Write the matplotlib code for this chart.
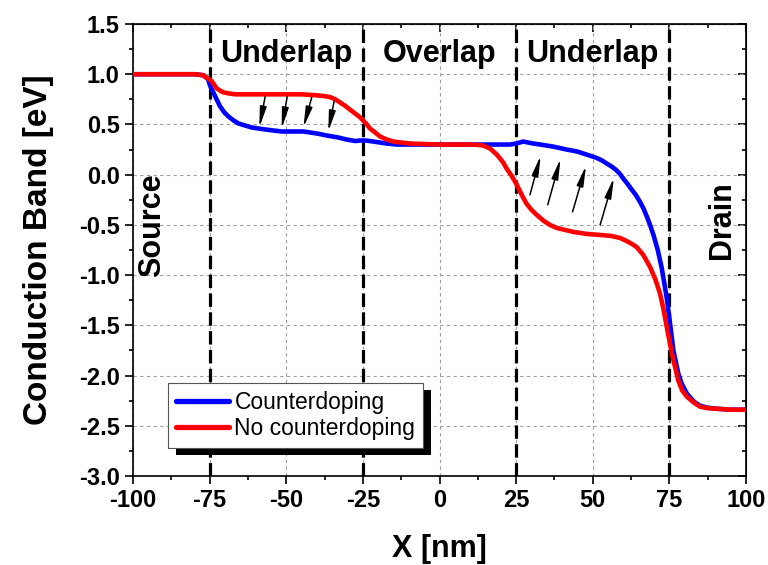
import matplotlib
matplotlib.use('Agg')
import matplotlib.pyplot as plt
from matplotlib.ticker import MultipleLocator
from matplotlib.patches import Rectangle

plt.rcParams['font.family'] = ['Liberation Sans', 'DejaVu Sans']
plt.rcParams['axes.unicode_minus'] = False

# conduction band edge, x in nm, energy in eV
x_cd = [-100, -90, -80, -77, -75.5, -74.9, -73.2, -71.6, -70.2, -68.9, -67.2, -65.6, -63.5,
        -61.3, -56.9, -51.5, -44.4, -40, -36.8, -33, -30.3, -27.5, -25.9, -24, -21.6,
        -17.2, -14, -10, 0, 10, 20, 23, 25, 27.3, 30.6, 32.9, 37, 41.5, 45, 48, 51,
        52.8, 54.6, 56.2, 57.5, 58.8, 60, 61.3, 62.5, 64, 65.4, 66.6, 67.8, 68.8,
        69.8, 71.2, 72.5, 74.1, 75.2, 76.3, 77.9, 79, 80.7, 83, 85, 87.5, 90.4, 95, 100]
e_cd = [1.0, 1.0, 1.0, 0.99, 0.95, 0.89, 0.78, 0.68, 0.62, 0.58, 0.54, 0.51, 0.49,
        0.47, 0.45, 0.43, 0.43, 0.41, 0.39, 0.37, 0.35, 0.335, 0.34, 0.34, 0.33,
        0.31, 0.30, 0.30, 0.30, 0.30, 0.30, 0.30, 0.31, 0.33, 0.31, 0.30, 0.28, 0.25, 0.23, 0.20, 0.17,
        0.145, 0.11, 0.08, 0.05, 0.01, -0.04, -0.09, -0.14, -0.20, -0.27, -0.34, -0.43, -0.51,
        -0.60, -0.75, -0.93, -1.22, -1.48, -1.75, -1.98, -2.08, -2.18, -2.26, -2.30, -2.32, -2.33, -2.34, -2.34]

x_nocd = [-100, -90, -80, -77, -76.5, -75.4, -74.3, -72.7, -71.5, -70.5, -69, -66.7, -60, -51.5,
          -45, -40, -37, -35.5, -34, -32.5, -31, -28, -25.9, -24, -22.7, -21, -19.4, -17.2,
          -15.1, -12.5, -9.6, 0, 6.7, 11, 13, 14.3, 16.5, 18.7, 20.8, 21.9, 23.5, 25.2, 26.8, 28.4,
          30, 31.7, 34, 36, 38.2, 43.7, 48, 52.4, 56, 58.9, 61, 62.8, 64.3, 66.5, 68.7,
          70.5, 71.9, 73, 74.1, 75.8, 77.9, 79.2, 80.7, 83, 85, 87.5, 90.4, 95, 100]
e_nocd = [1.0, 1.0, 1.0, 0.99, 0.975, 0.955, 0.93, 0.86, 0.835, 0.82, 0.81, 0.80, 0.80, 0.80,
          0.80, 0.79, 0.78, 0.77, 0.75, 0.72, 0.69, 0.62, 0.57, 0.51, 0.46, 0.42, 0.38, 0.35,
          0.33, 0.32, 0.31, 0.30, 0.30, 0.30, 0.295, 0.29, 0.26, 0.20, 0.12, 0.06, -0.01, -0.10, -0.20, -0.29,
          -0.35, -0.40, -0.46, -0.50, -0.53, -0.57, -0.59, -0.60, -0.61, -0.63, -0.66, -0.69, -0.72, -0.80, -0.92,
          -1.05, -1.18, -1.33, -1.51, -1.78, -2.05, -2.15, -2.21, -2.27, -2.31, -2.325, -2.33, -2.34, -2.34]

# region boundaries
boundaries = [-75, -25, 25, 75]
regions = ['Underlap', 'Overlap', 'Underlap']
region_x = [-50, 0, 50]

# arrows: (tail x, tail y, head x, head y)
arrows = [(-56.9, 0.776, -58.8, 0.47), (-49.7, 0.776, -51.5, 0.46),
          (-41.7, 0.77, -44.4, 0.47), (-34.4, 0.73, -36.3, 0.43),
          (29.5, -0.20, 33.0, 0.19), (35.3, -0.30, 39.5, 0.16),
          (43.4, -0.37, 47.8, 0.09), (52.4, -0.50, 56.9, -0.03)]

fig = plt.figure(figsize=(7.68, 5.65), dpi=100)
ax = fig.add_axes([0.1732, 0.1575, 0.7982, 0.8])

ax.grid(True, which='major', ls=(0, (3, 3)), color='#a0a0a0', lw=0.8)
for b in boundaries:
    ax.axvline(b, color='k', lw=2.3, dashes=(4.2, 1.7), zorder=2)

ax.plot(x_cd, e_cd, color='#0000ff', lw=3.3, label='Counterdoping', zorder=3,
        solid_joinstyle='round', solid_capstyle='round')
ax.plot(x_nocd, e_nocd, color='#ff0000', lw=3.3, label='No counterdoping', zorder=3,
        solid_joinstyle='round', solid_capstyle='round')

for tx, ty, hx, hy in arrows:
    ax.annotate('', xy=(hx, hy), xytext=(tx, ty),
                arrowprops=dict(arrowstyle='-|>,head_width=0.18,head_length=1.1',
                                color='k', lw=1.1, mutation_scale=11,
                                shrinkA=0, shrinkB=0), zorder=4)

for name, rx in zip(regions, region_x):
    ax.text(rx, 1.125, name, ha='center', va='baseline', fontsize=22, fontweight='bold')
ax.text(-93.8, -0.5, 'Source', rotation=90, ha='center', va='center',
        fontsize=22, fontweight='bold')
ax.text(92.2, -0.45, 'Drain', rotation=90, ha='center', va='center',
        fontsize=22, fontweight='bold')

ax.set_xlim(-100, 100)
ax.set_ylim(-3.0, 1.5)
ax.xaxis.set_major_locator(MultipleLocator(25))
ax.xaxis.set_minor_locator(MultipleLocator(12.5))
ax.yaxis.set_major_locator(MultipleLocator(0.5))
ax.yaxis.set_minor_locator(MultipleLocator(0.25))
ax.yaxis.set_major_formatter(plt.FormatStrFormatter('%.1f'))
ax.tick_params(which='both', direction='out', top=False, right=False,
               labelsize=17, width=1.2)
ax.tick_params(which='major', length=6)
ax.tick_params(which='minor', length=3)
for lab in ax.get_xticklabels() + ax.get_yticklabels():
    lab.set_fontweight('bold')
for s in ax.spines.values():
    s.set_linewidth(1.2)

# top and right axes carry inward ticks only
top = ax.secondary_xaxis('top')
top.xaxis.set_major_locator(MultipleLocator(25))
top.xaxis.set_minor_locator(MultipleLocator(12.5))
top.tick_params(which='both', direction='in', labeltop=False, width=1.2)
top.tick_params(which='major', length=6)
top.tick_params(which='minor', length=3)
right = ax.secondary_yaxis('right')
right.yaxis.set_major_locator(MultipleLocator(0.5))
right.yaxis.set_minor_locator(MultipleLocator(0.25))
right.tick_params(which='both', direction='in', labelright=False, width=1.2)
right.tick_params(which='major', length=6)
right.tick_params(which='minor', length=3)

ax.set_xlabel('X [nm]', fontsize=22, fontweight='bold', labelpad=16)
ax.set_ylabel('Conduction Band [eV]', fontsize=24, fontweight='bold', labelpad=18)

leg = ax.legend(loc='lower left', bbox_to_anchor=(0.057, 0.062), borderaxespad=0,
                fontsize=16.5, frameon=True, fancybox=False, framealpha=1,
                edgecolor='#555555', handlelength=2.3, handletextpad=0.25,
                borderpad=0.35, labelspacing=0.15)
leg.get_frame().set_linewidth(0.8)
for h in leg.legend_handles:
    h.set_linewidth(3.8)

# solid black drop shadow behind the legend box
fig.canvas.draw()
bb = leg.get_window_extent().transformed(ax.transAxes.inverted())
dx = 8 / (0.7982 * 768)
dy = 7 / (0.8 * 565)
ax.add_patch(Rectangle((bb.x0 + dx, bb.y0 - dy), bb.width, bb.height,
                       transform=ax.transAxes, facecolor='k', edgecolor='none',
                       zorder=4.9))

fig.savefig('out.png', dpi=100)
